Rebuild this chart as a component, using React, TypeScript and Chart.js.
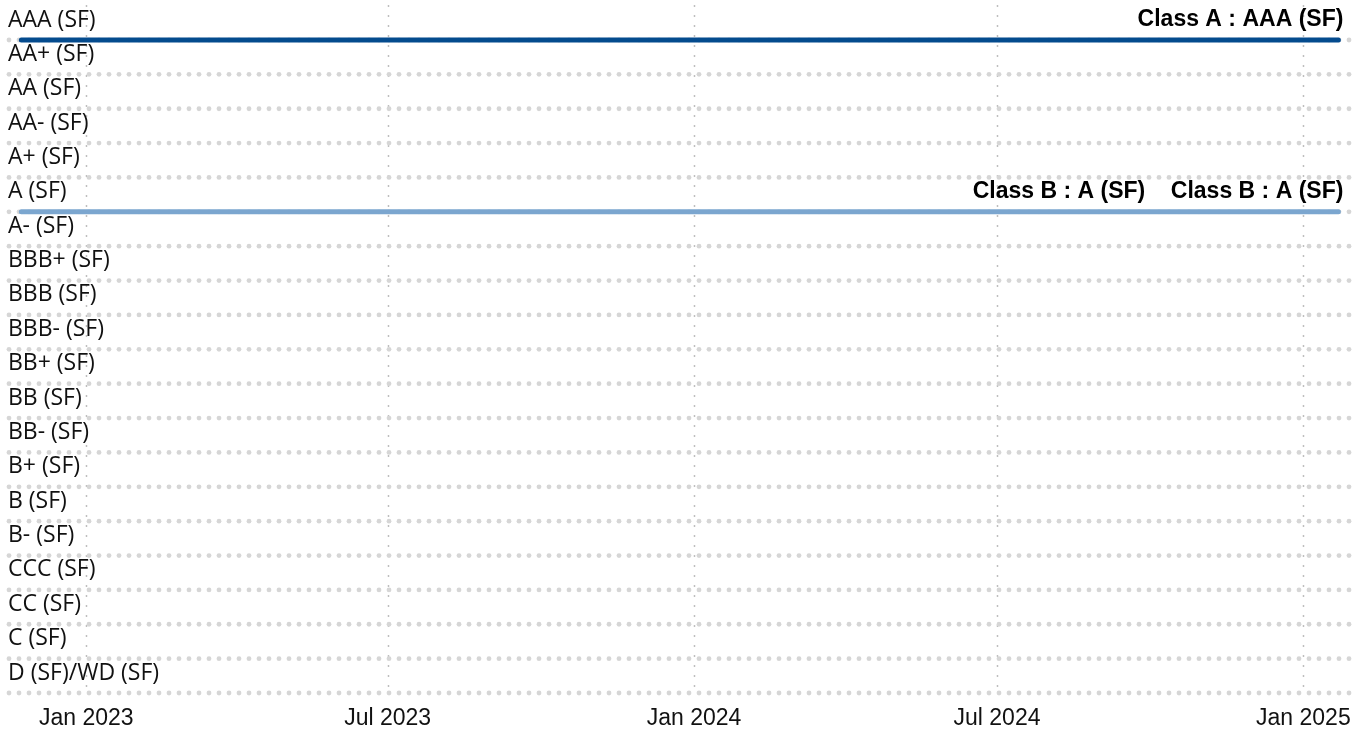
import React, { useEffect, useRef } from 'react';
import { Chart, registerables } from 'chart.js';

Chart.register(...registerables);

// ---- Data ----
const ratingLabels = [
  'AAA (SF)', 'AA+ (SF)', 'AA (SF)', 'AA- (SF)', 'A+ (SF)', 'A (SF)', 'A- (SF)',
  'BBB+ (SF)', 'BBB (SF)', 'BBB- (SF)', 'BB+ (SF)', 'BB (SF)', 'BB- (SF)',
  'B+ (SF)', 'B (SF)', 'B- (SF)', 'CCC (SF)', 'CC (SF)', 'C (SF)', 'D (SF)/WD (SF)',
];
const xTickDates = ['2023-01-01', '2023-07-01', '2024-01-01', '2024-07-01', '2025-01-01'];
const xTickLabels = ['Jan 2023', 'Jul 2023', 'Jan 2024', 'Jul 2024', 'Jan 2025'];
const axisMinDate = '2022-11-15';
const axisMaxDate = '2025-01-29';

const classADates = ['2022-11-23', '2025-01-22'];
const classARatings = ['AAA (SF)', 'AAA (SF)'];
const classAPointLabels = ['', 'Class A : AAA (SF)'];

const classBDates = ['2022-11-23', '2024-09-25', '2025-01-22'];
const classBRatings = ['A (SF)', 'A (SF)', 'A (SF)'];
const classBPointLabels = ['', 'Class B : A (SF)', 'Class B : A (SF)'];

const classAColor = '#044b8e';
const classBColor = '#7ba6cf';

// ---- helpers ----
const BASE = Date.UTC(2023, 0, 1);
const toDay = (s: string) => {
  const [y, m, d] = s.split('-').map(Number);
  return Math.round((Date.UTC(y, m - 1, d) - BASE) / 86400000);
};
const toRatingIdx = (r: string) => ratingLabels.indexOf(r);

const gridDots = {
  id: 'gridDots',
  beforeDraw(chart: any) {
    const { ctx, chartArea, scales } = chart;
    const xs = scales.x;
    const ys = scales.y;
    ctx.save();
    // vertical tiny dots
    ctx.fillStyle = '#b8b8b8';
    xs.ticks.forEach((t: any) => {
      const px = Math.round(xs.getPixelForValue(t.value)) + 0.5;
      for (let y = 6; y <= chartArea.bottom + 1; y += 10) {
        ctx.beginPath();
        ctx.arc(px, y, 0.9, 0, Math.PI * 2);
        ctx.fill();
      }
    });
    // horizontal round dots
    ctx.fillStyle = '#d6d6d6';
    ys.ticks.forEach((t: any) => {
      const py = ys.getPixelForValue(t.value);
      for (let x = chartArea.left + 1; x <= chartArea.right; x += 10) {
        ctx.beginPath();
        ctx.arc(x, py, 2.4, 0, Math.PI * 2);
        ctx.fill();
      }
    });
    ctx.restore();
  },
};

const pointLabels = {
  id: 'pointLabels',
  afterDatasetsDraw(chart: any) {
    const { ctx } = chart;
    ctx.save();
    ctx.font = 'bold 23px "Liberation Sans", Arial, sans-serif';
    ctx.fillStyle = '#000';
    ctx.textAlign = 'right';
    ctx.textBaseline = 'middle';
    chart.data.datasets.forEach((ds: any, di: number) => {
      const meta = chart.getDatasetMeta(di);
      const labels: string[] = ds.pointLabels || [];
      meta.data.forEach((pt: any, i: number) => {
        const txt = labels[i];
        if (!txt) return;
        ctx.fillText(txt, pt.x + 5, pt.y - 20);
      });
    });
    ctx.restore();
  },
};

export default function App() {
  const ref = useRef<HTMLCanvasElement | null>(null);

  useEffect(() => {
    if (!ref.current) return;
    const chart = new Chart(ref.current, {
      type: 'line',
      data: {
        datasets: [
          {
            label: 'Class A',
            data: classADates.map((d, i) => ({ x: toDay(d), y: toRatingIdx(classARatings[i]) })),
            borderColor: classAColor,
            borderWidth: 5,
            borderCapStyle: 'round',
            pointRadius: 0,
            pointHoverRadius: 0,
            tension: 0,
            clip: false,
            pointLabels: classAPointLabels,
          } as any,
          {
            label: 'Class B',
            data: classBDates.map((d, i) => ({ x: toDay(d), y: toRatingIdx(classBRatings[i]) })),
            borderColor: classBColor,
            borderWidth: 5,
            borderCapStyle: 'round',
            pointRadius: 0,
            pointHoverRadius: 0,
            tension: 0,
            clip: false,
            pointLabels: classBPointLabels,
          } as any,
        ],
      },
      options: {
        animation: false,
        responsive: true,
        maintainAspectRatio: false,
        layout: { padding: { top: 40, left: 8, right: 16, bottom: 0 } },
        plugins: {
          legend: { display: false },
          tooltip: { enabled: false },
        },
        scales: {
          x: {
            type: 'linear',
            min: toDay(axisMinDate),
            max: toDay(axisMaxDate),
            grid: { display: false, drawTicks: false },
            border: { display: false },
            afterBuildTicks: (s: any) => {
              s.ticks = xTickDates.map((d) => ({ value: toDay(d) }));
            },
            afterFit: (s: any) => {
              s.height = 43;
            },
            ticks: {
              autoSkip: false,
              maxRotation: 0,
              padding: 12,
              color: '#111',
              font: { family: '"Liberation Sans", Arial, sans-serif', size: 23 },
              callback: (_v: any, i: number) => xTickLabels[i],
            },
          },
          y: {
            type: 'linear',
            min: 0,
            max: ratingLabels.length - 1,
            reverse: true,
            grid: { display: false, drawTicks: false },
            border: { display: false },
            afterFit: (s: any) => {
              s.width = 0;
            },
            ticks: {
              stepSize: 1,
              autoSkip: false,
              mirror: true,
              padding: 0,
              labelOffset: -20,
              color: '#111',
              font: { family: '"Open Sans", "Noto Sans", sans-serif', size: 23 },
              callback: (v: any) => ratingLabels[v as number],
            },
          },
        },
      } as any,
      plugins: [gridDots, pointLabels],
    });
    return () => chart.destroy();
  }, []);

  return (
    <div style={{ position: 'fixed', left: 0, top: 0, width: 1366, height: 736, background: '#fff' }}>
      <canvas ref={ref} />
    </div>
  );
}
